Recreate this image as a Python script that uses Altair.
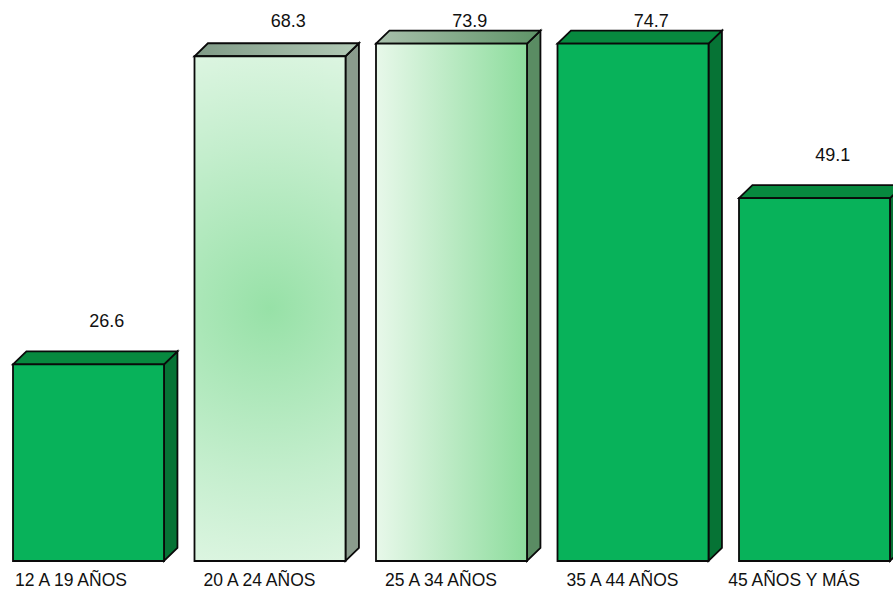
import json
import altair as alt
import pandas as pd

# ---- data ----
categories = ["12 A 19 AÑOS", "20 A 24 AÑOS", "25 A 34 AÑOS", "35 A 44 AÑOS", "45 AÑOS Y MÁS"]
values = [26.6, 68.3, 73.9, 74.7, 49.1]
value_labels = ["26.6", "68.3", "73.9", "74.7", "49.1"]

AXIS_MAX = 70  # value axis ceiling of the original chart (taller bars are capped)

# ---- styles / geometry (in scale units) ----
HW = 0.416      # half bar width (slot units)
DX = 0.074      # 3D depth along x
DY = 1.76       # 3D depth along y
X_DOMAIN = [-0.4876, 4.4325]
Y_DOMAIN = [0, 75.91]
STROKE = "#0a0a0a"
SW = 1.8

solid = {"front": "#08B25A", "top": "#07893F", "side": "#067335"}


def lin(c0, c1, vertical=False):
    return {"gradient": "linear", "x1": 0, "y1": 0,
            "x2": 0 if vertical else 1, "y2": 1 if vertical else 0,
            "stops": [{"offset": 0, "color": c0}, {"offset": 1, "color": c1}]}


styles = [
    solid,
    {"front": {"gradient": "radial", "x1": 0.5, "y1": 0.5, "x2": 0.5, "y2": 0.5,
               "r1": 0, "r2": 0.6,
               "stops": [{"offset": 0, "color": "#97E1A7"},
                         {"offset": 0.55, "color": "#C4EECD"},
                         {"offset": 1, "color": "#E6F8E9"}]},
     "top": lin("#7F9A86", "#B2CAB6"), "side": "#8A9C8D"},
    {"front": lin("#E8F8EA", "#8CDC9C"),
     "top": lin("#A9C0AC", "#5E9467"), "side": "#5A8C63"},
    solid,
    solid,
]

bars = pd.DataFrame({"cat": categories, "idx": list(range(len(categories))),
                     "value": values, "label": value_labels})
faces = bars.merge(pd.DataFrame({"edge": [0, 1]}), how="cross")

label_expr = json.dumps(categories, ensure_ascii=False) + "[datum.value]"
xscale = alt.Scale(domain=X_DOMAIN, nice=False, zero=False)
yscale = alt.Scale(domain=Y_DOMAIN, nice=False, zero=False)
xaxis = alt.Axis(values=list(range(len(categories))), labelExpr=label_expr, title=None,
                 domain=False, ticks=False, grid=False, labelFont="Liberation Sans",
                 labelFontSize=17.5, labelColor="#111111", labelPadding=10,
                 labelOffset={"condition": [{"test": "datum.value == 0", "value": -18},
                                            {"test": "datum.value == 4", "value": -21}],
                              "value": -11},
                 labelFlush=False, labelOverlap=False)


def X(field):
    return alt.X(field, type="quantitative", scale=xscale, axis=xaxis)


def Y(field):
    return alt.Y(field, type="quantitative", scale=yscale, axis=None)


layers = []
for i, st in enumerate(styles):
    front = (alt.Chart(bars)
             .transform_filter(f"datum.idx == {i}")
             .transform_calculate(h=f"min(datum.value, {AXIS_MAX})",
                                  xl=f"datum.idx - {HW}", xr=f"datum.idx + {HW}", z="0")
             .mark_rect(fill=st["front"], stroke=STROKE, strokeWidth=SW)
             .encode(x=X("xl"), x2="xr:Q", y=Y("h"), y2="z:Q"))
    side = (alt.Chart(faces)
            .transform_filter(f"datum.idx == {i}")
            .transform_calculate(sx=f"datum.idx + {HW} + datum.edge * {DX}",
                                 sy=f"min(datum.value, {AXIS_MAX}) + datum.edge * {DY}",
                                 sy2=f"datum.edge * {DY}")
            .mark_area(orient="vertical", fill=st["side"], stroke=STROKE,
                       strokeWidth=SW, strokeJoin="miter")
            .encode(x=X("sx"), y=Y("sy"), y2="sy2:Q"))
    top = (alt.Chart(faces)
           .transform_filter(f"datum.idx == {i}")
           .transform_calculate(ty=f"min(datum.value, {AXIS_MAX}) + datum.edge * {DY}",
                                tx=f"datum.idx - {HW} + datum.edge * {DX}",
                                tx2=f"datum.idx + {HW} + datum.edge * {DX}")
           .mark_area(orient="horizontal", fill=st["top"], stroke=STROKE,
                      strokeWidth=SW, strokeJoin="miter")
           .encode(y=Y("ty"), x=X("tx"), x2="tx2:Q"))
    layers += [side, top, front]

text = (alt.Chart(bars)
        .transform_calculate(lx="datum.idx + 0.1",
                             ly=f"min(datum.value + 5.7, {AXIS_MAX + 3})")
        .mark_text(font="Liberation Sans", fontSize=18, color="#111111")
        .encode(x=X("lx"), y=Y("ly"), text="label:N"))
layers.append(text)

chart = (alt.layer(*layers)
         .properties(width=893, height=561,
                     autosize=alt.AutoSizeParams(type="none"),
                     padding={"left": 0, "top": 0, "right": 0, "bottom": 42},
                     background="white")
         .configure_view(stroke=None))

chart.save("out.html", embed_options={"renderer": "svg", "actions": False})
